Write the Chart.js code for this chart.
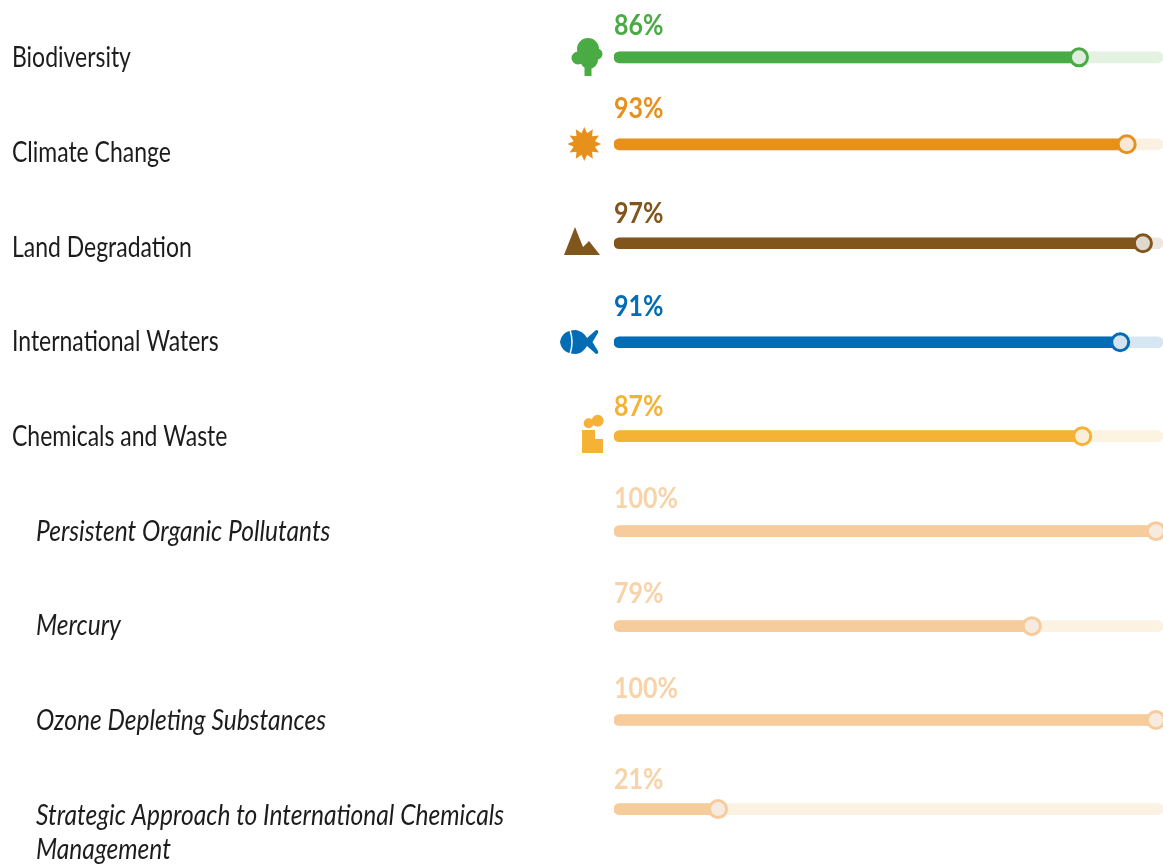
<!DOCTYPE html>
<html><head><meta charset="utf-8">
<style>html,body{margin:0;padding:0;background:#fff;overflow:hidden}canvas{display:block}</style>
<script src="https://cdn.jsdelivr.net/npm/chart.js@4"></script>
</head><body><canvas id="c" width="1163" height="865"></canvas>
<script>
// ---- data ----
const categories = ["Biodiversity","Climate Change","Land Degradation","International Waters","Chemicals and Waste","Persistent Organic Pollutants","Mercury","Ozone Depleting Substances","Strategic Approach to International Chemicals Management"];
const printedPercent = [86,93,97,91,87,100,79,100,21];
const barValues = [85.8,94.6,97.6,93.4,86.4,100,77.1,100,19.2];
const trackValues = [101.3,101.3,101.3,101.3,101.3,101.3,101.3,101.3,101.3];
const isSubRow = [false,false,false,false,false,true,true,true,true];
// ---- colours ----
const barColors = ["#4aab45","#e8901c","#80561c","#026db5","#f5b335","#f6cc9c","#f6cc9c","#f6cc9c","#f6cc9c"];
const trackColors = ["#e4f2e2","#fcf0e2","#ece7e1","#d6e7f3","#fdf3e1","#fcf2e2","#fcf2e2","#fcf2e2","#fcf2e2"];
const knobColors = ["#e0ecdd","#fae8d6","#e1d8cd","#d3e3ef","#fbeed8","#f7eadf","#f7eadf","#f7eadf","#f7eadf"];
const textColors = ["#4aab45","#e8901c","#80561c","#026db5","#f5b335","#f7d3a9","#f7d3a9","#f7d3a9","#f7d3a9"];
// ---- layout ----
const rowNudge = [0,-7.7,-3.4,0.9,0.2,0.5,0.8,0,-5.6];
const percentLift = [32,36,30,36,30,32.5,32,31,29];
const FONT = 'Lato,"Open Sans",sans-serif';
const LABEL_SQUEEZE = 0.82;
const ITALIC_SQUEEZE = 0.877;
const PERCENT_SQUEEZE = 0.86;

class RowScale extends Chart.CategoryScale {
  static id = 'rowscale';
  static defaults = Chart.CategoryScale.defaults;
  getPixelForValue(v, i){
    const n = typeof v === 'number' ? v : this.parse(v);
    return super.getPixelForValue(n) + (rowNudge[Math.round(n)] || 0);
  }
  getPixelForTick(i){ return Chart.CategoryScale.prototype.getPixelForValue.call(this, this.ticks[i].value); }
  getPadding(){ return {left:0,right:0,top:0,bottom:0}; }
  drawLabels(area){
    const g=this.ctx;
    for(const it of this.getLabelItems(area)){
      const italic = it.font.style==='italic', k = italic ? ITALIC_SQUEEZE : LABEL_SQUEEZE;
      g.save(); g.translate(this.left+(italic?1:0),1); g.scale(k,1); g.translate(-this.left,0);
      Chart.helpers.renderText(g,it.label,0,it.textOffset,it.font,it.options);
      g.restore();
    }
  }
}
Chart.register(RowScale);

function tree(g,x,y){ g.beginPath();
  [[0,-8,11],[-10,1,6.5],[9,-3,5.5],[1,3,9]].forEach(c=>{g.moveTo(x+c[0]+c[2],y+c[1]);g.arc(x+c[0],y+c[1],c[2],0,7);});
  g.rect(x-3.5,y+5,7,14); g.fill(); }
function sun(g,x,y){ g.beginPath();
  for(let i=0;i<24;i++){const r=i%2?11:17,a=-Math.PI/2+i*Math.PI/12;g[i?'lineTo':'moveTo'](x+r*Math.cos(a),y+r*Math.sin(a));}
  g.closePath();g.fill(); }
function mountain(g,x,y){ g.beginPath();g.moveTo(x-18,y+14);g.lineTo(x-7,y-14);g.lineTo(x+1,y+6);g.lineTo(x+7,y);g.lineTo(x+18,y+14);g.closePath();g.fill(); }
function fish(g,x,y){ g.beginPath();g.moveTo(x-19,y);
  g.quadraticCurveTo(x-17,y-12,x-3,y-12);g.quadraticCurveTo(x+4,y-11,x+8,y-4);
  g.lineTo(x+17,y-12);g.quadraticCurveTo(x+20,y-12,x+19,y-9);g.lineTo(x+13.5,y);g.lineTo(x+19,y+9);g.quadraticCurveTo(x+20,y+12,x+17,y+12);g.lineTo(x+8,y+4);
  g.quadraticCurveTo(x+4,y+11,x-3,y+12);g.quadraticCurveTo(x-17,y+12,x-19,y);g.closePath();g.fill();
  g.save();g.strokeStyle='#fff';g.lineWidth=1.5;g.beginPath();g.moveTo(x-9,y-12);g.quadraticCurveTo(x-5,y,x-9,y+12);g.stroke();g.restore(); }
function factory(g,x,y){ g.beginPath();g.moveTo(x-10,y-3);g.lineTo(x+3,y-3);g.lineTo(x+3,y+6);g.lineTo(x+11,y+6);g.lineTo(x+11,y+20);g.lineTo(x-10,y+20);g.closePath();
  g.moveTo(x+11.7,y-12.3);g.arc(x+5.7,y-12.3,6,0,7);g.moveTo(x+1.7,y-9.7);g.arc(x-3.3,y-9.7,5,0,7);g.fill(); }
const icons = [[tree,588,57],[sun,584.3,144],[mountain,582,241],[fish,579,342],[factory,592,433]];

const overlay = {
  id:'overlay',
  afterDatasetsDraw(chart){
    const g = chart.ctx, x0 = chart.scales.x.getPixelForValue(0), y = chart.scales.y;
    g.save();
    g.textAlign='left'; g.textBaseline='middle'; g.font='bold 29px '+FONT;
    printedPercent.forEach((p,i)=>{
      g.save(); g.translate(x0,y.getPixelForValue(i)-percentLift[i]); g.scale(PERCENT_SQUEEZE,1);
      g.fillStyle = textColors[i];
      g.fillText(p+'%', 0, 0); g.restore();
    });
    icons.forEach((ic,i)=>{ g.fillStyle = barColors[i]; ic[0](g,ic[1],ic[2]); });
    g.restore();
  }
};

new Chart(document.getElementById('c'),{
  data:{ labels:categories, datasets:[
    {type:'line',label:'marker',data:barValues,showLine:false,order:0,clip:false,
      pointRadius:8.5,pointHoverRadius:8.5,pointBorderWidth:3,pointBorderColor:barColors,pointBackgroundColor:knobColors},
    {type:'bar',label:'value',data:barValues,order:1,backgroundColor:barColors,barThickness:11,borderRadius:5.5,borderSkipped:false,grouped:false},
    {type:'bar',label:'track',data:trackValues,order:2,backgroundColor:trackColors,barThickness:11,borderRadius:5.5,borderSkipped:false,grouped:false}
  ]},
  options:{
    indexAxis:'y', responsive:false, animation:false, events:[],
    layout:{autoPadding:false,padding:{left:12,right:0,top:10,bottom:3}},
    plugins:{legend:{display:false},tooltip:{enabled:false}},
    scales:{
      x:{type:'linear',min:0,max:101.3,display:false,grid:{display:false}},
      y:{type:'rowscale',offset:true,grid:{display:false},border:{display:false},
        afterFit(s){s.width=602;},
        ticks:{autoSkip:false,crossAlign:'far',padding:0,color:'#1c1c1c',maxRotation:0,
          font:c=>({family:FONT,size:28,style:isSubRow[c.index]?'italic':'normal',lineHeight:'34px'}),
          callback(v,i){
            const t=categories[i], pad=isSubRow[i]?'\u00A0\u00A0\u00A0\u00A0':'';
            const m=t.indexOf(' Management');
            return m>0?['',pad+t.slice(0,m),pad+t.slice(m+1)]:pad+t;
          }}}
    }
  },
  plugins:[overlay]
});
</script></body></html>
